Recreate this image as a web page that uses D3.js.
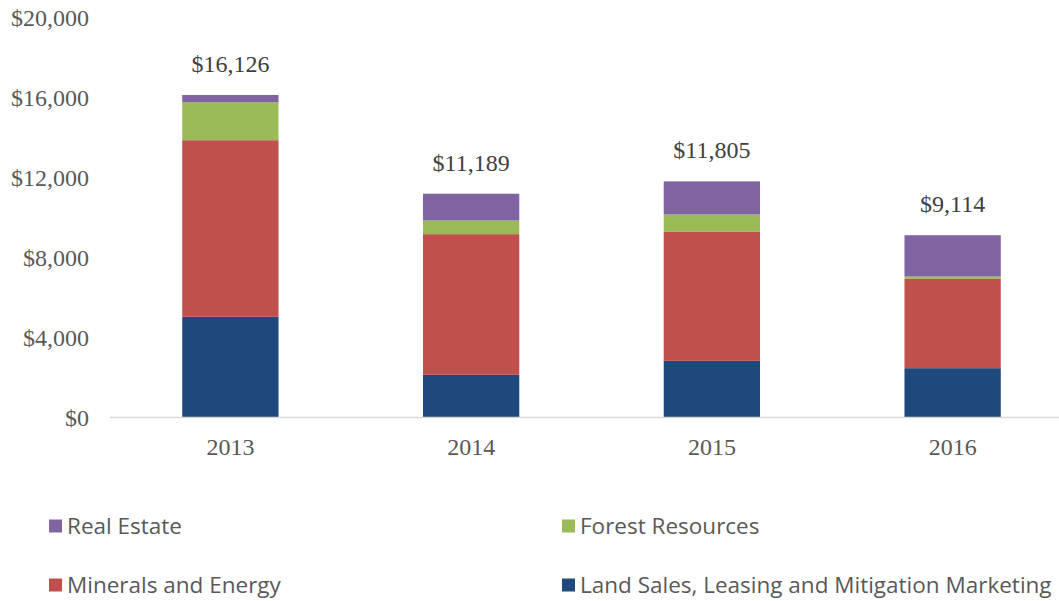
<!DOCTYPE html>
<html>
<head>
<meta charset="utf-8">
<script src="https://cdn.jsdelivr.net/npm/d3@7"></script>
<style>
  body { margin: 0; background: #fff; }
  svg { display: block; }
</style>
</head>
<body>
<div id="chart"></div>
<script>
// values (dollars)
const years = ["2013", "2014", "2015", "2016"];
const landSales = [5035, 2133, 2833, 2467];
const minerals = [8830, 7034, 6467, 4466];
const forest = [1900, 683, 850, 117];
const realEstate = [361, 1339, 1655, 2064];
const totals = [16126, 11189, 11805, 9114];
const yTicks = [0, 4000, 8000, 12000, 16000, 20000];

const seriesKeys = ["land", "minerals", "forest", "realEstate"];
const seriesNames = {
  land: "Land Sales, Leasing and Mitigation Marketing",
  minerals: "Minerals and Energy",
  forest: "Forest Resources",
  realEstate: "Real Estate"
};
const colors = {
  land: "#1F497D",
  minerals: "#C0504D",
  forest: "#9BBB59",
  realEstate: "#8064A2"
};

const rows = years.map((y, i) => ({
  year: y,
  land: landSales[i],
  minerals: minerals[i],
  forest: forest[i],
  realEstate: realEstate[i],
  total: totals[i]
}));

const W = 1059, H = 601;
const svg = d3.select("#chart").append("svg")
  .attr("width", W)
  .attr("height", H);

const x = d3.scaleBand()
  .domain(years)
  .range([110, 1073])
  .paddingInner(0.6)
  .paddingOuter(0.3);

const y = d3.scaleLinear()
  .domain([0, 20000])
  .range([417.5, 17.5]);

const serif = "'Liberation Serif', 'Times New Roman', serif";
const textCol = "#595959";

// y labels
svg.append("g").selectAll("text")
  .data(yTicks)
  .join("text")
  .attr("x", 89)
  .attr("y", d => y(d))
  .attr("dy", "0.35em")
  .attr("text-anchor", "end")
  .style("font-family", serif)
  .style("font-size", "24px")
  .style("fill", textCol)
  .text(d => "$" + d3.format(",")(d));

const stack = d3.stack().keys(seriesKeys)(rows);

svg.append("g").selectAll("g")
  .data(stack)
  .join("g")
  .attr("fill", d => colors[d.key])
  .selectAll("rect")
  .data(d => d)
  .join("rect")
  .attr("x", d => x(d.data.year))
  .attr("width", x.bandwidth())
  .attr("y", d => y(d[1]))
  .attr("height", d => y(d[0]) - y(d[1]));

// baseline
svg.append("line")
  .attr("x1", 110).attr("x2", W)
  .attr("y1", y(0)).attr("y2", y(0))
  .attr("stroke", "#d9d9d9")
  .attr("stroke-width", 1.3);

// x labels
svg.append("g").selectAll("text")
  .data(years)
  .join("text")
  .attr("x", d => x(d) + x.bandwidth() / 2)
  .attr("y", 455)
  .attr("text-anchor", "middle")
  .style("font-family", serif)
  .style("font-size", "24px")
  .style("fill", textCol)
  .text(d => d);

// totals
svg.append("g").selectAll("text")
  .data(rows)
  .join("text")
  .attr("x", d => x(d.year) + x.bandwidth() / 2)
  .attr("y", d => y(d.total) - 23)
  .attr("text-anchor", "middle")
  .style("font-family", serif)
  .style("font-size", "24px")
  .style("fill", "#404040")
  .text(d => "$" + d3.format(",")(d.total));

// legend
const legendItems = [
  { key: "realEstate", x: 49, y: 526 },
  { key: "forest", x: 562, y: 526 },
  { key: "minerals", x: 49, y: 585 },
  { key: "land", x: 562, y: 585 }
];

const lg = svg.append("g").selectAll("g")
  .data(legendItems)
  .join("g")
  .attr("transform", d => `translate(${d.x},${d.y})`);

lg.append("rect")
  .attr("x", 0).attr("y", -6.5)
  .attr("width", 13).attr("height", 13)
  .attr("fill", d => colors[d.key]);

lg.append("text")
  .attr("x", 18)
  .attr("dy", "0.35em")
  .style("font-family", "'Open Sans', 'Noto Sans', sans-serif")
  .style("font-size", "22.5px")
  .style("fill", textCol)
  .text(d => seriesNames[d.key]);
</script>
</body>
</html>
